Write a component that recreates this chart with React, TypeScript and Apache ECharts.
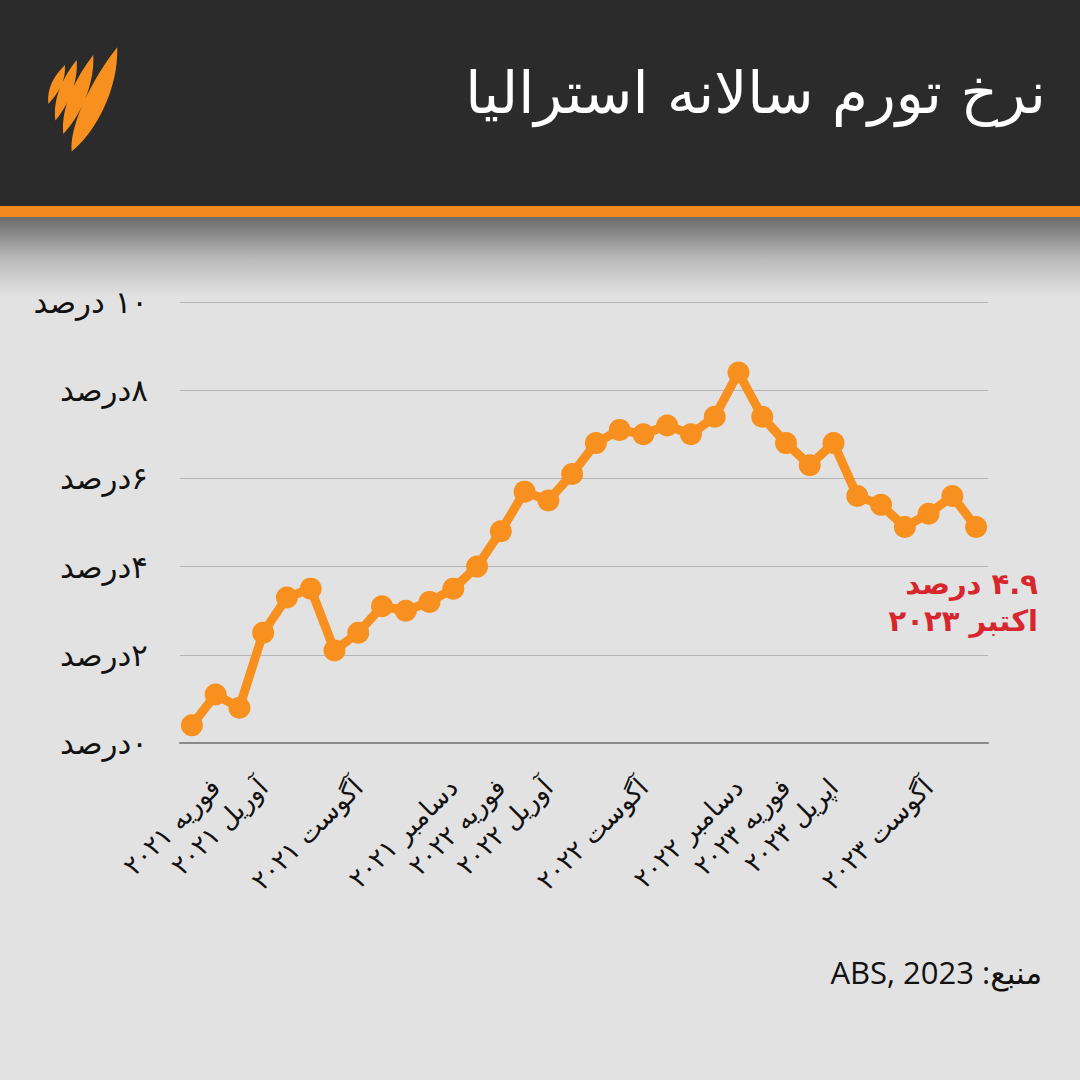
import React, { useEffect, useRef } from "react";
import * as echarts from "echarts";

const RLM = "\u200F";
const RLI = "\u2067";
const PDI = "\u2069";

// Monthly categories, Jan 2021 – Oct 2023
const months: string[] = [
  "ژانویه ۲۰۲۱", "فوریه ۲۰۲۱", "مارس ۲۰۲۱", "آوریل ۲۰۲۱", "مه ۲۰۲۱", "ژوئن ۲۰۲۱",
  "ژوئیه ۲۰۲۱", "آگوست ۲۰۲۱", "سپتامبر ۲۰۲۱", "اکتبر ۲۰۲۱", "نوامبر ۲۰۲۱", "دسامبر ۲۰۲۱",
  "ژانویه ۲۰۲۲", "فوریه ۲۰۲۲", "مارس ۲۰۲۲", "آوریل ۲۰۲۲", "مه ۲۰۲۲", "ژوئن ۲۰۲۲",
  "ژوئیه ۲۰۲۲", "آگوست ۲۰۲۲", "سپتامبر ۲۰۲۲", "اکتبر ۲۰۲۲", "نوامبر ۲۰۲۲", "دسامبر ۲۰۲۲",
  "ژانویه ۲۰۲۳", "فوریه ۲۰۲۳", "مارس ۲۰۲۳", "اپریل ۲۰۲۳", "مه ۲۰۲۳", "ژوئن ۲۰۲۳",
  "ژوئیه ۲۰۲۳", "آگوست ۲۰۲۳", "سپتامبر ۲۰۲۳", "اکتبر ۲۰۲۳",
];

// Which category labels are printed under the axis
const shownLabelIndices: number[] = [1, 3, 7, 11, 13, 15, 19, 23, 25, 27, 31];

// Annual inflation rate (%)
const inflation: number[] = [
  0.4, 1.1, 0.8, 2.5, 3.3, 3.5, 2.1, 2.5, 3.1, 3.0, 3.2, 3.5,
  4.0, 4.8, 5.7, 5.5, 6.1, 6.8, 7.1, 7.0, 7.2, 7.0, 7.4, 8.4,
  7.4, 6.8, 6.3, 6.8, 5.6, 5.4, 4.9, 5.2, 5.6, 4.9,
];

// Y tick labels (0,2,4,6,8,10)
const yTickValues: number[] = [0, 2, 4, 6, 8, 10];
const yTickLabels: string[] = ["۰درصد", "۲درصد", "۴درصد", "۶درصد", "۸درصد", "۱۰ درصد"];

const titleText = "نرخ تورم سالانه استرالیا";
const calloutLine1 = "۴.۹ درصد";
const calloutLine2 = "اکتبر ۲۰۲۳";
const sourceText = "\u202Bمنبع: \u202AABS, 2023\u202C\u202C";

const LOGO_D =
  "M262,22 C266,150 195,280 125,335 C118,250 195,105 262,22 Z " +
  "M190,45 C195,135 150,230 100,282 C92,200 140,110 190,45 Z " +
  "M140,60 C146,130 112,200 76,242 C68,172 100,112 140,60 Z " +
  "M105,75 C108,122 86,160 55,192 C50,142 74,106 105,75 Z";

let registered = false;

export default function App() {
  const ref = useRef<HTMLDivElement>(null);

  useEffect(() => {
    if (!ref.current) return;
    if (!registered) {
      echarts.graphic.registerShape("logo", echarts.graphic.extendPath(LOGO_D, {}));
      registered = true;
    }
    const chart = echarts.init(ref.current, null, { renderer: "svg" });
    const persianFont = "'DejaVu Sans', 'Noto Sans', sans-serif";

    chart.setOption({
      animation: false,
      backgroundColor: "#e2e2e2",
      grid: { left: 180, right: 92, top: 302, bottom: 337, containLabel: false },
      xAxis: {
        type: "category",
        data: months,
        boundaryGap: true,
        axisLine: { show: true, lineStyle: { color: "#8a8a8a", width: 2 } },
        axisTick: { show: false },
        splitLine: { show: false },
        axisLabel: {
          rotate: 45,
          margin: 40,
          padding: [44, 0, 0, 0],
          interval: (idx: number) => shownLabelIndices.indexOf(idx) >= 0,
          color: "#111",
          fontSize: 26,
          fontFamily: persianFont,
        },
      },
      yAxis: {
        type: "value",
        min: 0,
        max: 10,
        interval: 2,
        axisLine: { show: false },
        axisTick: { show: false },
        splitLine: { show: true, lineStyle: { color: "#b4b4b4", width: 1 } },
        axisLabel: {
          margin: 32,
          color: "#111",
          fontSize: 31,
          fontFamily: persianFont,
          formatter: (v: number) => {
            const i = yTickValues.indexOf(v);
            return i >= 0 ? RLM + yTickLabels[i] : "";
          },
        },
      },
      series: [
        {
          type: "line",
          data: inflation,
          symbol: "circle",
          symbolSize: 22,
          showAllSymbol: true,
          itemStyle: { color: "#f7901e" },
          lineStyle: { color: "#f7901e", width: 9 },
          z: 5,
        },
      ],
      graphic: [
        { type: "rect", left: 0, top: 0, shape: { width: 1080, height: 206 }, style: { fill: "#2b2b2b" }, z: -10 },
        { type: "rect", left: 0, top: 206, shape: { width: 1080, height: 11 }, style: { fill: "#f28a1f" }, z: -10 },
        {
          type: "rect",
          left: 0,
          top: 217,
          shape: { width: 1080, height: 80 },
          style: {
            fill: new echarts.graphic.LinearGradient(0, 0, 0, 1, [
              { offset: 0, color: "#6b6b6b" },
              { offset: 0.55, color: "#bdbdbd" },
              { offset: 1, color: "#e2e2e2" },
            ]),
          },
          z: -10,
        },
        {
          type: "logo",
          x: 30,
          y: 40,
          scaleX: 1 / 3,
          scaleY: 1 / 3,
          style: { fill: "#f7901e" },
        },
        {
          type: "text",
          right: 34,
          top: 64,
          style: {
            text: titleText,
            fill: "#ffffff",
            font: "58px " + persianFont,
          },
        },
        {
          type: "text",
          right: 42,
          top: 569,
          style: {
            text: RLI + calloutLine1 + PDI,
            fill: "#d7262d",
            font: "bold 29px " + persianFont,
          },
        },
        {
          type: "text",
          right: 42,
          top: 606,
          style: {
            text: calloutLine2,
            fill: "#d7262d",
            font: "bold 29px " + persianFont,
          },
        },
        {
          type: "text",
          right: 38,
          top: 956,
          style: {
            text: sourceText,
            fill: "#111",
            font: "31px 'Open Sans', 'Noto Sans', 'DejaVu Sans', sans-serif",
          },
        },
      ],
    });
    return () => chart.dispose();
  }, []);

  return (
    <div
      ref={ref}
      style={{ position: "fixed", left: 0, top: 0, width: 1080, height: 1080 }}
    />
  );
}
